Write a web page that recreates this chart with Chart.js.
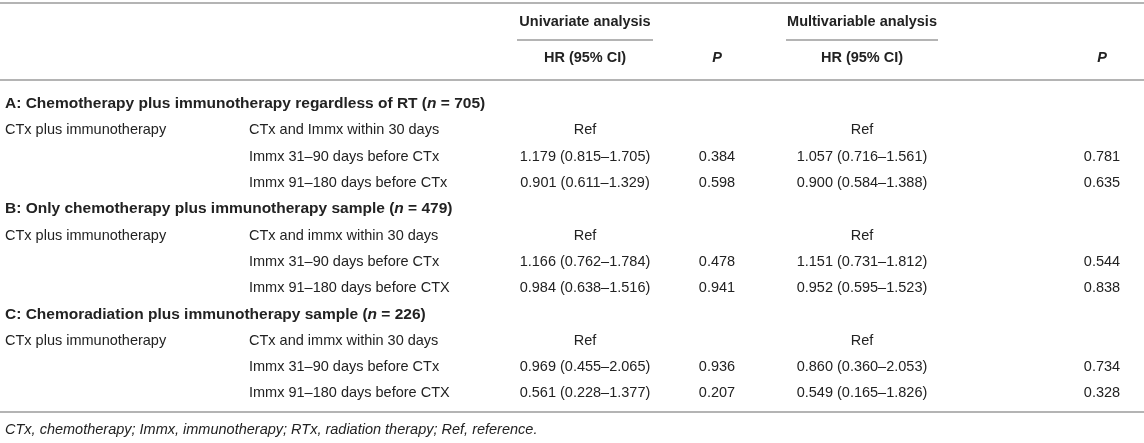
<!DOCTYPE html>
<html>
<head>
<meta charset="utf-8">
<script src="https://cdn.jsdelivr.net/npm/chart.js@4/dist/chart.umd.min.js"></script>
<style>
  html, body { margin: 0; padding: 0; background: #fff; }
  canvas { display: block; }
</style>
</head>
<body>
<canvas id="table-canvas" width="1144" height="443"></canvas>
<script>
// table content
const sectionLetters = ["A", "B", "C"];
const sectionNames = [
  "Chemotherapy plus immunotherapy regardless of RT",
  "Only chemotherapy plus immunotherapy sample",
  "Chemoradiation plus immunotherapy sample",
];
const sectionN = [705, 479, 226];
const groupLabel = "CTx plus immunotherapy";
const comparisons = [
  ["CTx and Immx within 30 days", "Immx 31–90 days before CTx", "Immx 91–180 days before CTx"],
  ["CTx and immx within 30 days", "Immx 31–90 days before CTx", "Immx 91–180 days before CTX"],
  ["CTx and immx within 30 days", "Immx 31–90 days before CTx", "Immx 91–180 days before CTX"],
];

// null = reference category
const uniHR = [[null, 1.179, 0.901], [null, 1.166, 0.984], [null, 0.969, 0.561]];
const uniLow = [[null, 0.815, 0.611], [null, 0.762, 0.638], [null, 0.455, 0.228]];
const uniHigh = [[null, 1.705, 1.329], [null, 1.784, 1.516], [null, 2.065, 1.377]];
const uniP = [[null, 0.384, 0.598], [null, 0.478, 0.941], [null, 0.936, 0.207]];

const multiHR = [[null, 1.057, 0.9], [null, 1.151, 0.952], [null, 0.86, 0.549]];
const multiLow = [[null, 0.716, 0.584], [null, 0.731, 0.595], [null, 0.36, 0.165]];
const multiHigh = [[null, 1.561, 1.388], [null, 1.812, 1.523], [null, 2.053, 1.826]];
const multiP = [[null, 0.781, 0.635], [null, 0.544, 0.838], [null, 0.734, 0.328]];

const headerGroups = ["Univariate analysis", "Multivariable analysis"];
const footnote = "CTx, chemotherapy; Immx, immunotherapy; RTx, radiation therapy; Ref, reference.";

// layout (x in pixels, y in row units)
const colX = { group: 5, comp: 249, uniHR: 585, uniP: 717, multiHR: 862, multiP: 1102 };
const spanX = [[517, 653], [786, 938]];
const rowStep = 26.3;
const rowsTop = 104;
const rowAt = (px) => (px - rowsTop) / rowStep;
const layoutRows = {
  topRule: rowAt(3),
  head1: rowAt(22),
  spanRule: rowAt(40),
  head2: rowAt(58),
  headRule: rowAt(80),
  bottomRule: rowAt(412),
  foot: rowAt(430),
};

const textColor = "#222";
const ruleColor = "#b4b4b4";
const fontFamily = "'Liberation Sans', Arial, Helvetica, sans-serif";
const bodySize = 14.5;

const fmt = (v) => v.toFixed(3);
const hrText = (hr, lo, hi) => (hr === null ? "Ref" : `${fmt(hr)} (${fmt(lo)}–${fmt(hi)})`);

// one cell per table entry, placed on the scales
const cells = [];
sectionLetters.forEach((letter, s) => {
  const base = s * 4;
  cells.push({ x: colX.group, y: base, size: 15.5, parts: [
    { t: `${letter}: ${sectionNames[s]} (`, b: true },
    { t: "n", b: true, i: true },
    { t: ` = ${sectionN[s]})`, b: true },
  ], align: "left" });
  comparisons[s].forEach((comp, r) => {
    const y = base + 1 + r;
    if (r === 0) cells.push({ x: colX.group, y, parts: [{ t: groupLabel }], align: "left" });
    cells.push({ x: colX.comp, y, parts: [{ t: comp }], align: "left" });
    cells.push({ x: colX.uniHR, y, parts: [{ t: hrText(uniHR[s][r], uniLow[s][r], uniHigh[s][r]) }], align: "center" });
    if (uniP[s][r] !== null) cells.push({ x: colX.uniP, y, parts: [{ t: fmt(uniP[s][r]) }], align: "center" });
    cells.push({ x: colX.multiHR, y, parts: [{ t: hrText(multiHR[s][r], multiLow[s][r], multiHigh[s][r]) }], align: "center" });
    if (multiP[s][r] !== null) cells.push({ x: colX.multiP, y, parts: [{ t: fmt(multiP[s][r]) }], align: "center" });
  });
});
cells.push({ x: colX.uniHR, y: layoutRows.head1, parts: [{ t: headerGroups[0], b: true }], align: "center" });
cells.push({ x: colX.multiHR, y: layoutRows.head1, parts: [{ t: headerGroups[1], b: true }], align: "center" });
cells.push({ x: colX.uniHR, y: layoutRows.head2, parts: [{ t: "HR (95% CI)", b: true }], align: "center" });
cells.push({ x: colX.uniP, y: layoutRows.head2, parts: [{ t: "P", b: true, i: true }], align: "center" });
cells.push({ x: colX.multiHR, y: layoutRows.head2, parts: [{ t: "HR (95% CI)", b: true }], align: "center" });
cells.push({ x: colX.multiP, y: layoutRows.head2, parts: [{ t: "P", b: true, i: true }], align: "center" });
cells.push({ x: colX.group, y: layoutRows.foot, parts: [{ t: footnote, i: true }], align: "left" });

const rules = [
  { x0: 0, x1: 1144, y: layoutRows.topRule },
  { x0: spanX[0][0], x1: spanX[0][1], y: layoutRows.spanRule },
  { x0: spanX[1][0], x1: spanX[1][1], y: layoutRows.spanRule },
  { x0: 0, x1: 1144, y: layoutRows.headRule },
  { x0: 0, x1: 1144, y: layoutRows.bottomRule },
];

const fontFor = (p, size) => `${p.i ? "italic " : ""}${p.b ? "bold " : ""}${size}px ${fontFamily}`;

const tablePlugin = {
  id: "tablePlugin",
  afterDatasetsDraw(chart) {
    const { ctx, scales: { x, y } } = chart;
    ctx.save();
    ctx.strokeStyle = ruleColor;
    ctx.lineWidth = 2;
    rules.forEach((r) => {
      const py = Math.round(y.getPixelForValue(r.y));
      ctx.beginPath();
      ctx.moveTo(x.getPixelForValue(r.x0), py);
      ctx.lineTo(x.getPixelForValue(r.x1), py);
      ctx.stroke();
    });
    ctx.fillStyle = textColor;
    ctx.textBaseline = "middle";
    ctx.textAlign = "left";
    chart.data.datasets[0].data.forEach((cell) => {
      const size = cell.size || bodySize;
      const widths = cell.parts.map((p) => {
        ctx.font = fontFor(p, size);
        return ctx.measureText(p.t).width;
      });
      const total = widths.reduce((a, b) => a + b, 0);
      let px = x.getPixelForValue(cell.x);
      if (cell.align === "center") px -= total / 2;
      const py = y.getPixelForValue(cell.y);
      cell.parts.forEach((p, k) => {
        ctx.font = fontFor(p, size);
        ctx.fillText(p.t, px, py);
        px += widths[k];
      });
    });
    ctx.restore();
  },
};

new Chart(document.getElementById("table-canvas").getContext("2d"), {
  type: "scatter",
  data: {
    datasets: [{ data: cells, pointRadius: 0, pointHoverRadius: 0 }],
  },
  options: {
    responsive: false,
    animation: false,
    events: [],
    layout: { padding: 0 },
    scales: {
      x: { type: "linear", min: 0, max: 1144, display: false },
      y: { type: "linear", min: rowAt(0), max: rowAt(443), reverse: true, display: false },
    },
    plugins: { legend: { display: false }, tooltip: { enabled: false } },
  },
  plugins: [tablePlugin],
});
</script>
</body>
</html>
